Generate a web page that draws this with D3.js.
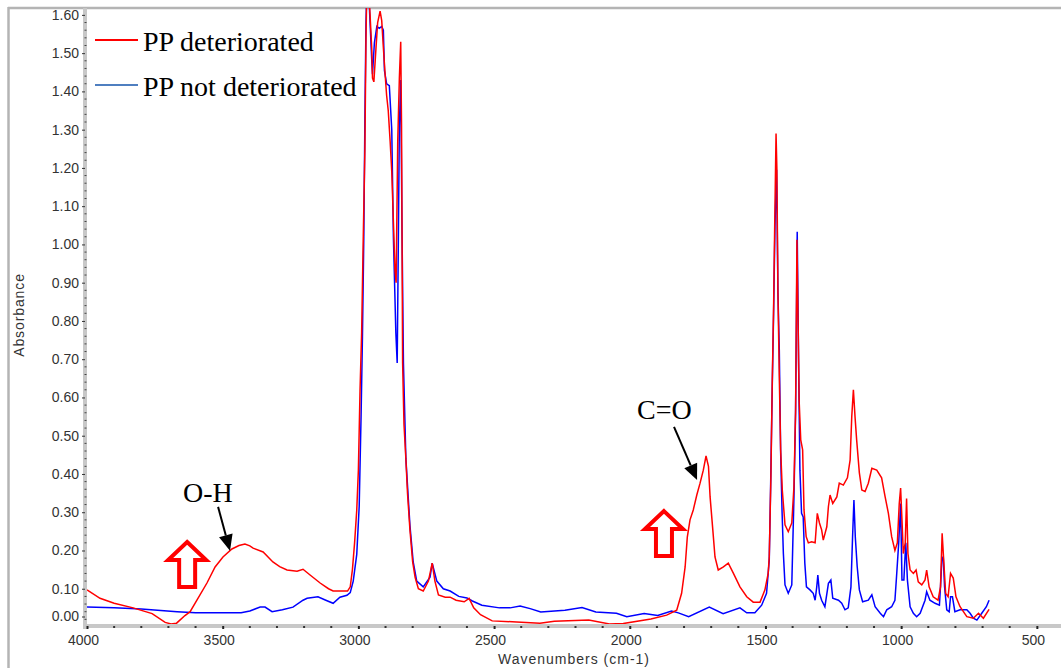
<!DOCTYPE html>
<html>
<head>
<meta charset="utf-8">
<script src="https://cdn.jsdelivr.net/npm/d3@7"></script>
<style>
  body { margin: 0; background: #fff; }
  svg { display: block; }
  .tick text { font-family: "Liberation Sans", Arial, sans-serif; font-size: 14px; fill: #333; }
</style>
</head>
<body>
<div id="chart"></div>
<script>
// wavenumbers (cm-1) and absorbance
const redWn = [4000, 3952, 3900, 3830, 3760, 3712, 3690, 3670, 3639, 3620, 3595, 3558, 3528, 3499, 3466, 3440, 3418, 3400, 3388, 3351,
  3315, 3290, 3263, 3226, 3204, 3178, 3141, 3110, 3093, 3040, 3030, 3022, 3014, 3006, 3000, 2994, 2988, 2982, 2976, 2972,
  2969, 2962, 2957, 2951, 2948, 2943, 2935, 2929, 2920, 2914, 2908, 2902, 2896, 2890, 2883, 2877, 2871, 2865, 2861, 2855,
  2849, 2844, 2841, 2837, 2832, 2825, 2819, 2810, 2800, 2791, 2779, 2761, 2742, 2728, 2718, 2705, 2680, 2662, 2640, 2610,
  2592, 2575, 2550, 2507, 2417, 2331, 2278, 2151, 2075, 2024, 1922, 1864, 1827, 1809, 1796, 1788, 1778, 1766, 1753, 1741,
  1729, 1719, 1710, 1704, 1694, 1686, 1674, 1655, 1637, 1618, 1594, 1569, 1545, 1520, 1502, 1490, 1486, 1480, 1475, 1470,
  1466, 1461, 1458, 1454, 1449, 1444, 1438, 1428, 1416, 1403, 1395, 1389, 1384, 1380, 1376, 1370, 1363, 1358, 1350, 1342,
  1330, 1317, 1309, 1301, 1293, 1287, 1274, 1268, 1262, 1252, 1237, 1228, 1213, 1198, 1188, 1182, 1176, 1170, 1164, 1154,
  1145, 1133, 1121, 1108, 1090, 1072, 1059, 1047, 1035, 1023, 1014, 1007, 1002, 997, 992, 985, 980, 975, 967, 955,
  945, 937, 924, 912, 906, 897, 882, 864, 855, 849, 844, 836, 827, 818, 808, 798, 783, 758, 734, 715,
  697, 676];
const redAbs = [0.097, 0.075, 0.062, 0.05, 0.035, 0.012, 0.008, 0.01, 0.03, 0.04, 0.07, 0.115, 0.157, 0.183, 0.204, 0.213, 0.217, 0.212, 0.206, 0.196,
  0.17, 0.158, 0.149, 0.146, 0.151, 0.136, 0.115, 0.1, 0.094, 0.094, 0.105, 0.15, 0.22, 0.306, 0.41, 0.616, 0.77, 1.02, 1.25, 1.54,
  1.66, 1.66, 1.6, 1.515, 1.435, 1.425, 1.515, 1.58, 1.61, 1.585, 1.515, 1.45, 1.39, 1.35, 1.27, 1.19, 1.06, 0.93, 0.9, 1.27,
  1.435, 1.53, 1.31, 0.69, 0.53, 0.44, 0.35, 0.254, 0.17, 0.13, 0.1, 0.094, 0.12, 0.167, 0.12, 0.084, 0.078, 0.078, 0.07, 0.066,
  0.075, 0.05, 0.032, 0.016, 0.013, 0.01, 0.015, 0.018, 0.008, 0.009, 0.021, 0.031, 0.044, 0.088, 0.157, 0.235, 0.28, 0.306, 0.345, 0.376,
  0.41, 0.447, 0.42, 0.34, 0.254, 0.183, 0.149, 0.157, 0.167, 0.14, 0.105, 0.079, 0.065, 0.065, 0.097, 0.14, 0.184, 0.39, 0.638, 0.837,
  1.047, 1.29, 1.2, 0.873, 0.654, 0.463, 0.358, 0.267, 0.249, 0.272, 0.367, 0.567, 1.012, 0.811, 0.593, 0.489, 0.463, 0.306, 0.236, 0.22,
  0.223, 0.22, 0.297, 0.272, 0.254, 0.227, 0.262, 0.315, 0.345, 0.323, 0.34, 0.376, 0.371, 0.39, 0.437, 0.55, 0.62, 0.55, 0.489, 0.403,
  0.358, 0.354, 0.376, 0.415, 0.41, 0.39, 0.34, 0.297, 0.236, 0.2, 0.22, 0.323, 0.363, 0.28, 0.192, 0.22, 0.336, 0.192, 0.149, 0.14,
  0.149, 0.118, 0.11, 0.123, 0.149, 0.105, 0.079, 0.07, 0.105, 0.245, 0.184, 0.088, 0.079, 0.14, 0.128, 0.079, 0.053, 0.027, 0.023, 0.036,
  0.023, 0.046];

const blueWn = [4000, 3900, 3800, 3668, 3600, 3484, 3432, 3400, 3362, 3344, 3318, 3280, 3241, 3204, 3189, 3149, 3120, 3093, 3068, 3042,
  3030, 3019, 3006, 2997, 2990, 2985, 2980, 2976, 2972, 2969, 2962, 2957, 2951, 2948, 2941, 2932, 2923, 2914, 2908, 2904,
  2896, 2886, 2877, 2871, 2862, 2857, 2853, 2849, 2844, 2839, 2834, 2825, 2810, 2798, 2785, 2761, 2736, 2728, 2711, 2687,
  2662, 2630, 2600, 2580, 2545, 2480, 2441, 2404, 2367, 2328, 2239, 2176, 2125, 2049, 2011, 1947, 1897, 1846, 1821, 1783,
  1707, 1656, 1594, 1569, 1539, 1514, 1496, 1486, 1481, 1475, 1470, 1465, 1459, 1454, 1449, 1444, 1439, 1434, 1428, 1416,
  1403, 1395, 1389, 1383, 1378, 1373, 1367, 1361, 1355, 1349, 1336, 1324, 1317, 1311, 1307, 1301, 1293, 1281, 1268, 1259,
  1252, 1231, 1219, 1207, 1195, 1185, 1179, 1174, 1169, 1162, 1154, 1142, 1121, 1108, 1096, 1077, 1065, 1053, 1035, 1023,
  1017, 1009, 1002, 997, 990, 983, 977, 967, 955, 943, 930, 912, 906, 894, 875, 859, 855, 850, 845, 840,
  832, 823, 818, 811, 802, 783, 758, 746, 734, 721, 703, 686, 676];
const blueAbs = [0.052, 0.05, 0.047, 0.04, 0.037, 0.037, 0.037, 0.042, 0.052, 0.052, 0.04, 0.045, 0.052, 0.07, 0.075, 0.079, 0.07, 0.062, 0.078, 0.083,
  0.09, 0.12, 0.19, 0.316, 0.555, 0.76, 1.02, 1.33, 1.58, 1.66, 1.66, 1.58, 1.485, 1.445, 1.527, 1.57, 1.565, 1.57, 1.56, 1.455,
  1.42, 1.415, 1.3, 1.02, 0.77, 0.69, 0.99, 1.31, 1.43, 1.02, 0.69, 0.44, 0.265, 0.17, 0.12, 0.105, 0.13, 0.167, 0.12, 0.1,
  0.094, 0.08, 0.076, 0.068, 0.057, 0.05, 0.05, 0.055, 0.048, 0.039, 0.044, 0.051, 0.039, 0.036, 0.027, 0.035, 0.03, 0.042, 0.037, 0.027,
  0.052, 0.035, 0.05, 0.037, 0.037, 0.057, 0.088, 0.175, 0.367, 0.628, 0.82, 1.047, 1.195, 0.873, 0.724, 0.455, 0.306, 0.192, 0.11, 0.088,
  0.11, 0.34, 0.56, 1.033, 0.698, 0.41, 0.297, 0.288, 0.167, 0.105, 0.097, 0.088, 0.07, 0.105, 0.136, 0.088, 0.07, 0.053, 0.114, 0.123,
  0.075, 0.07, 0.062, 0.045, 0.05, 0.105, 0.236, 0.332, 0.236, 0.158, 0.097, 0.066, 0.07, 0.084, 0.053, 0.036, 0.027, 0.045, 0.053, 0.07,
  0.132, 0.22, 0.323, 0.123, 0.123, 0.22, 0.123, 0.053, 0.036, 0.027, 0.036, 0.07, 0.092, 0.07, 0.062, 0.057, 0.105, 0.175, 0.184, 0.105,
  0.045, 0.04, 0.079, 0.079, 0.04, 0.045, 0.045, 0.036, 0.023, 0.018, 0.036, 0.053, 0.07];

const seriesNames = ["PP deteriorated", "PP not deteriorated"];
const yTicks = d3.range(0, 17).map((i) => i / 10);
const xTicks = [4000, 3500, 3000, 2500, 2000, 1500, 1000, 500];

// annotation texts with label position, arrow tail and arrow tip (wavenumber, absorbance)
const notes = [
  { text: "O-H", at: [3646, 0.327], tail: [3517, 0.314], tip: [3473, 0.199], up: [3631, 0.222] },
  { text: "C=O", at: [1973, 0.544], tail: [1837, 0.523], tip: [1752, 0.384], up: [1874, 0.303] },
];

const width = 1061;
const height = 668;
const box = { left: 87, right: 1061, top: 8, bottom: 627 };

const x = d3.scaleLinear().domain([4000, 411]).range([box.left, box.right]);
const y = d3.scaleLinear().domain([0, 1.618]).range([box.bottom, box.top]);

const svg = d3.select("#chart").append("svg").attr("width", width).attr("height", height);

// outer frame
svg.append("line").attr("x1", 8).attr("x2", width).attr("y1", 8).attr("y2", 8)
  .attr("stroke", "#b4b4b4").attr("stroke-width", 2.5);
svg.append("line").attr("x1", 8.5).attr("x2", 8.5).attr("y1", 7).attr("y2", height)
  .attr("stroke", "#b4b4b4").attr("stroke-width", 2.5);

// axis bands
svg.append("rect").attr("x", 83).attr("y", box.top).attr("width", 4).attr("height", 621).attr("fill", "#c8c8c8");
svg.append("rect").attr("x", 83).attr("y", 624).attr("width", width - 83).attr("height", 4).attr("fill", "#c8c8c8");

// y axis
const yAxis = svg.append("g").attr("transform", "translate(85,0)")
  .call(d3.axisLeft(y).tickValues(yTicks).tickSize(3).tickPadding(3).tickFormat(d3.format(".2f")));
yAxis.select(".domain").remove();
yAxis.selectAll(".tick line").attr("stroke", "#333");
yAxis.selectAll(".tick").filter((d) => d === 0).attr("transform", `translate(0,${y(0) - 10})`);

svg.append("g").selectAll("line")
  .data(d3.range(0, 1.62, 0.02).filter((v) => Math.round(v * 100) % 10 !== 0))
  .join("line")
  .attr("x1", 84.5).attr("x2", 86.5)
  .attr("y1", (d) => y(d)).attr("y2", (d) => y(d))
  .attr("stroke", "#444").attr("stroke-width", 1);

// x axis
const xAxis = svg.append("g").attr("transform", "translate(0,626)")
  .call(d3.axisBottom(x).tickValues(xTicks).tickSize(3).tickPadding(6).tickFormat(d3.format("d")));
xAxis.select(".domain").remove();
xAxis.selectAll(".tick line").attr("stroke", "#222").attr("stroke-width", 2);
xAxis.selectAll(".tick text").attr("dx", -4);

svg.append("g").selectAll("rect")
  .data(d3.range(4000, 410, -100).filter((v) => v % 500 !== 0))
  .join("rect")
  .attr("x", (d) => x(d) - 1).attr("y", 626).attr("width", 2).attr("height", 2)
  .attr("fill", "#333");

// axis titles
svg.append("text")
  .attr("transform", "translate(24,315) rotate(-90)")
  .attr("text-anchor", "middle")
  .attr("font-family", "Liberation Sans, Arial, sans-serif")
  .attr("font-size", 14).attr("letter-spacing", 0.9).attr("fill", "#333")
  .text("Absorbance");

svg.append("text")
  .attr("x", 574).attr("y", 664)
  .attr("text-anchor", "middle")
  .attr("font-family", "Liberation Sans, Arial, sans-serif")
  .attr("font-size", 14).attr("letter-spacing", 1).attr("fill", "#333")
  .text("Wavenumbers (cm-1)");

// spectra
svg.append("clipPath").attr("id", "plot-clip")
  .append("rect").attr("x", box.left).attr("y", box.top).attr("width", box.right - box.left).attr("height", 616);

const line = d3.line().x((d) => x(d[0])).y((d) => y(d[1]));
const plotG = svg.append("g").attr("clip-path", "url(#plot-clip)");

plotG.append("path")
  .datum(d3.zip(blueWn, blueAbs))
  .attr("fill", "none").attr("stroke", "#0000ff").attr("stroke-width", 1.5)
  .attr("d", line);
plotG.append("path")
  .datum(d3.zip(redWn, redAbs))
  .attr("fill", "none").attr("stroke", "#ff0000").attr("stroke-width", 1.5)
  .attr("d", line);

// legend
const legend = svg.append("g")
  .selectAll("g")
  .data(seriesNames)
  .join("g")
  .attr("transform", (d, i) => `translate(95,${i === 0 ? 40 : 85})`);
legend.append("line").attr("x1", 0).attr("x2", 43)
  .attr("stroke", (d, i) => (i === 0 ? "#ff0000" : "#4f7fc0")).attr("stroke-width", 2);
legend.append("text").attr("x", 48).attr("y", 11)
  .attr("font-family", "Liberation Serif, Times New Roman, serif")
  .attr("font-size", 28).attr("fill", "#000")
  .text((d) => d);

// annotations
const noteG = svg.append("g").selectAll("g").data(notes).join("g");
noteG.append("text")
  .attr("x", (d) => x(d.at[0])).attr("y", (d) => y(d.at[1]))
  .attr("font-family", "Liberation Serif, Times New Roman, serif")
  .attr("font-size", 28).attr("fill", "#000")
  .text((d) => d.text);

noteG.each(function (d) {
  const g = d3.select(this);
  const x0 = x(d.tail[0]), y0 = y(d.tail[1]);
  const x1 = x(d.tip[0]), y1 = y(d.tip[1]);
  const ang = Math.atan2(y1 - y0, x1 - x0);
  const headLen = 16, headHalf = 7;
  const bx = x1 - headLen * Math.cos(ang), by = y1 - headLen * Math.sin(ang);
  g.append("line").attr("x1", x0).attr("y1", y0).attr("x2", bx).attr("y2", by)
    .attr("stroke", "#000").attr("stroke-width", 2);
  g.append("polygon")
    .attr("points", [
      [x1, y1],
      [bx + headHalf * Math.sin(ang), by - headHalf * Math.cos(ang)],
      [bx - headHalf * Math.sin(ang), by + headHalf * Math.cos(ang)],
    ].map((p) => p.join(",")).join(" "))
    .attr("fill", "#000");

  // hollow red arrow pointing up
  const ux = x(d.up[0]), uy = y(d.up[1]);
  const shape = [[0, 0], [19, 18], [8, 18], [8, 45], [-8, 45], [-8, 18], [-19, 18]];
  g.append("polygon")
    .attr("points", shape.map((p) => [ux + p[0], uy + p[1]].join(",")).join(" "))
    .attr("fill", "#fff").attr("stroke", "#ff0000").attr("stroke-width", 4)
    .attr("stroke-linejoin", "miter");
});
</script>
</body>
</html>
